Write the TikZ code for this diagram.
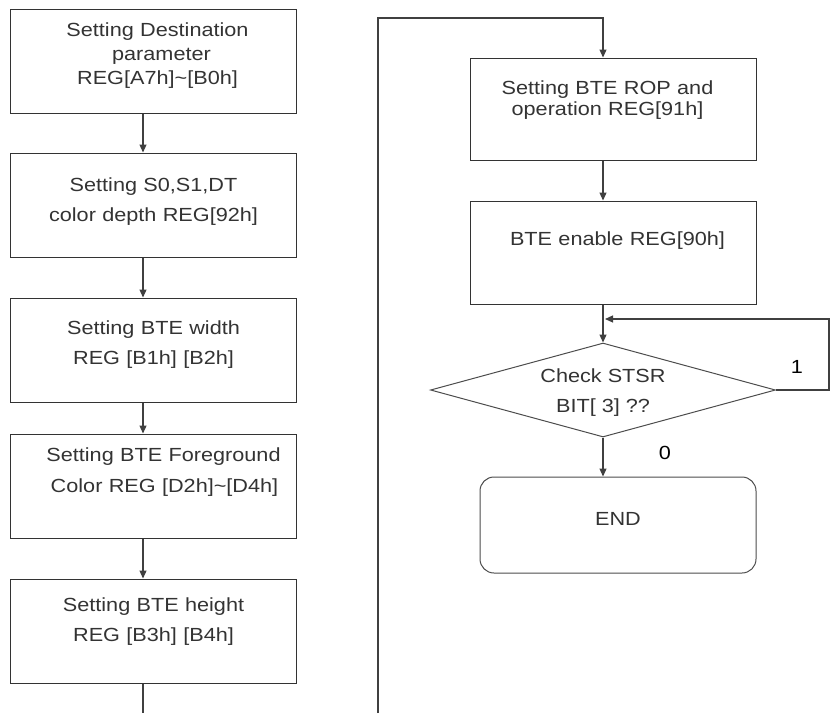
\documentclass[tikz,border=0pt]{standalone}
\usepackage{fontspec}
\setmainfont{Liberation Sans}[FakeStretch=1.14]
\usetikzlibrary{positioning,calc,shapes.geometric,arrows.meta}

% an empty last line, to lift the text inside its box
\newcommand{\lift}[1]{\\[#1]\mbox{}}
% push a centred line sideways
\newcommand{\nudge}[1]{\hspace*{#1}\mbox{}}

\begin{document}
\begin{tikzpicture}[x=1pt,y=-1pt,
font=\fontsize{19}{28}\selectfont,
block/.style = {rectangle, draw=black!80, line width=1pt, text=black!80,
                minimum width=286pt, minimum height=104pt, text width=280pt,
                align=center, inner sep=0pt},
decision/.style = {diamond, draw=black!70, line width=1pt, text=black!80,
                   minimum width=345pt, minimum height=94pt, inner sep=0pt,
                   aspect=3.6, align=center},
stop/.style = {rectangle, rounded corners=14pt, draw=black!70, line width=1pt,
               text=black!80, minimum width=276pt, minimum height=96pt,
               align=center},
line/.style ={draw=black!75, line width=1.2pt, -{Triangle[length=8pt,width=7pt]}}]

\useasboundingbox (0,0) rectangle (830,713);

% left column
\node [block] (dest) at (153.5,61) {\nudge{8pt}Setting Destination\\[-4pt] \nudge{16pt}parameter\\[-4pt] \nudge{8pt}REG[A7h]\textasciitilde[B0h]\lift{-14pt}};
\node [block, below=39pt of dest] (depth) {Setting S0,S1,DT\\[2pt] color depth REG[92h]\lift{-18pt}};
\node [block, below=40pt of depth] (width) {Setting BTE width\\[2pt] REG [B1h] [B2h]\lift{-14pt}};
\node [block, below=31pt of width] (fg) {\nudge{20pt}Setting BTE Foreground\\[3pt] \nudge{22pt}Color REG [D2h]\textasciitilde[D4h]\lift{4pt}};
\node [block, below=40pt of fg] (height) {Setting BTE height\\[2pt] REG [B3h] [B4h]\lift{-6pt}};

% right column
\node [block, minimum height=102pt] (rop) at (613.5,109) {Setting BTE ROP and\nudge{12pt}\\[-7pt] operation REG[91h]\nudge{12pt}\lift{-6pt}};
\node [block, minimum height=103pt, below=40pt of rop] (enable) {\nudge{8pt}BTE enable REG[90h]\lift{0pt}};
\node [decision] (check) at (603,390) {Check STSR\\[2pt] BIT[ 3] ??\lift{-30pt}};
\node [stop] (end) at (618,525) {END\lift{-16pt}};

\node (one) at (797,367) {1};
\node (zero) at (665,453) {0};

\coordinate (leftend) at (143,713);
\coordinate (cont) at (378,713);
\coordinate (topturn) at (603,18);
\coordinate (edge) at (829,319);
\coordinate (merge) at (605,319);

\begin{scope}[every path/.style=line]
\path (dest.south -| leftend) -- (depth.north -| leftend);
\path (depth.south -| leftend) -- (width.north -| leftend);
\path (width.south -| leftend) -- (fg.north -| leftend);
\path (fg.south -| leftend) -- (height.north -| leftend);
\path[-] (height.south -| leftend) -- (leftend);

\path (cont) |- (topturn) -- (rop.north -| topturn);
\path (rop.south -| check.north) -- (enable.north -| check.north);
\path (enable.south -| check.north) -- (check.north);
\path (check.east) -- (check.east -| edge) -- (edge) -- (merge);
\path (check.south) -- (end.north -| check.south);
\end{scope}
\end{tikzpicture}
\end{document}
